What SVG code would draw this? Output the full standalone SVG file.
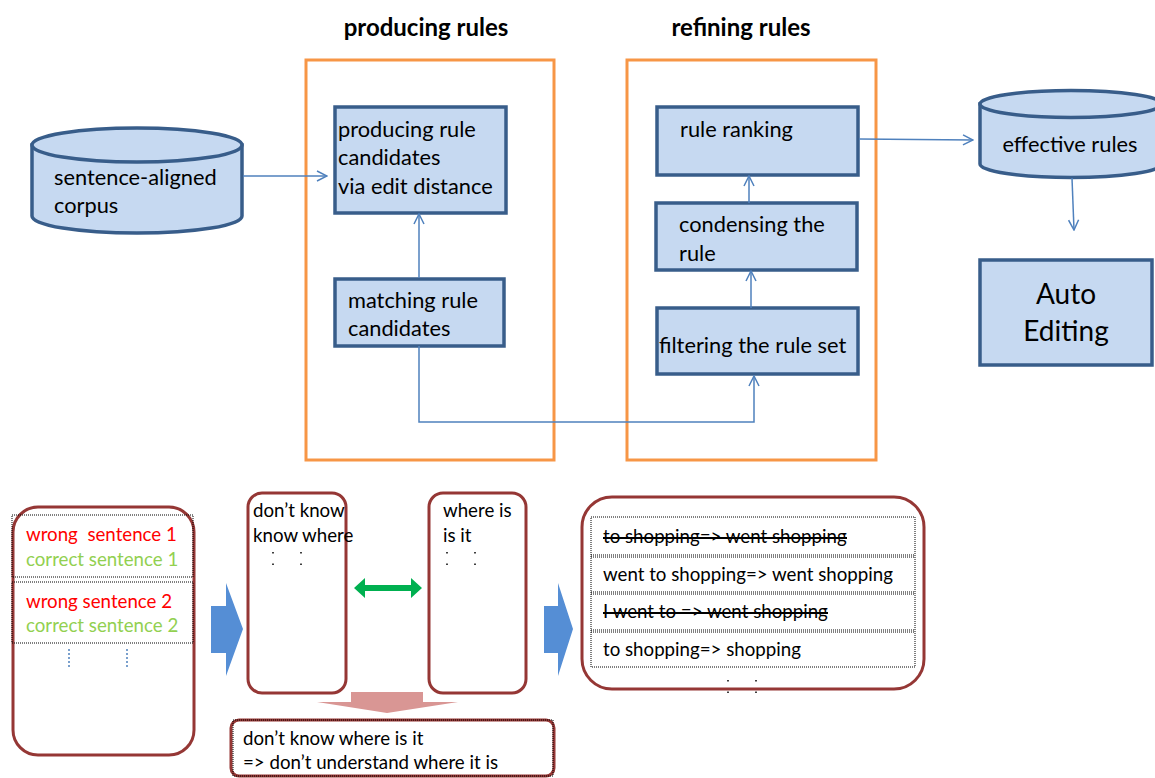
<svg xmlns="http://www.w3.org/2000/svg" width="1155" height="778" viewBox="0 0 1155 778">
<defs>
<marker id="open" viewBox="0 0 12 12" refX="11" refY="6" markerWidth="12" markerHeight="12" markerUnits="userSpaceOnUse" orient="auto">
<path d="M1,1 L11,6 L1,11" fill="none" stroke="#4F81BD" stroke-width="1.5"/>
</marker>
</defs>
<style>
text{font-family:Lato,"Liberation Sans",sans-serif;fill:#000}
.title{font-size:24px;font-weight:bold}
.t{font-size:21.8px}
.b{font-size:18.7px}
.stage{fill:none;stroke:#F79646;stroke-width:3}
.proc{fill:#C6D9F1;stroke:#385D8A;stroke-width:3.5}
.conn{fill:none;stroke:#4F81BD;stroke-width:1.5}
.red{fill:#fff;stroke:#953735;stroke-width:3}
.dot{fill:none;stroke:#000;stroke-width:1;stroke-dasharray:1 1}
.vd{stroke:#000;stroke-width:1.5;stroke-dasharray:1.5 10}
</style>
<rect width="1155" height="778" fill="#fff"/>

<g id="title-producing"><text class="title" x="426" y="36" text-anchor="middle">producing rules</text></g>
<g id="title-refining"><text class="title" x="741" y="36" text-anchor="middle">refining rules</text></g>

<g id="stage-producing"><rect class="stage" x="306" y="60" width="248" height="400"/></g>
<g id="stage-refining"><rect class="stage" x="627" y="60" width="249" height="400"/></g>

<g id="corpus">
<path class="proc" d="M32,145 L32,216 A105,17 0 0 0 242,216 L242,145 Z"/>
<ellipse class="proc" cx="137" cy="145" rx="105" ry="17"/>
<text class="t" x="54" y="185">sentence-aligned</text>
<text class="t" x="54" y="213">corpus</text>
</g>

<g id="producing">
<rect class="proc" x="335" y="107" width="171" height="106"/>
<text class="t" x="338" y="137">producing rule</text>
<text class="t" x="338" y="165">candidates</text>
<text class="t" x="338" y="194">via edit distance</text>
</g>

<g id="matching">
<rect class="proc" x="335" y="279" width="169" height="67"/>
<text class="t" x="348" y="308">matching rule</text>
<text class="t" x="348" y="336">candidates</text>
</g>

<g id="ranking">
<rect class="proc" x="657" y="107" width="201" height="68"/>
<text class="t" x="680" y="137">rule ranking</text>
</g>

<g id="condensing">
<rect class="proc" x="656" y="203" width="201" height="67"/>
<text class="t" x="679" y="232">condensing the</text>
<text class="t" x="679" y="261">rule</text>
</g>

<g id="filtering">
<rect class="proc" x="657" y="308" width="201" height="66"/>
<text class="t" x="659" y="353">filtering the rule set</text>
</g>

<g id="effective">
<path class="proc" d="M980,104 L980,164 A91,13.5 0 0 0 1162,164 L1162,104 Z"/>
<ellipse class="proc" cx="1071" cy="104" rx="91" ry="13.5"/>
<text class="t" x="1070" y="152" text-anchor="middle">effective rules</text>
</g>

<g id="auto-editing">
<rect class="proc" x="980" y="260" width="172" height="105"/>
<text x="1066" y="304" text-anchor="middle" style="font-size:28px">Auto</text>
<text x="1066" y="341" text-anchor="middle" style="font-size:28px">Editing</text>
</g>

<g id="connectors">
<line class="conn" x1="243" y1="176" x2="327" y2="176" marker-end="url(#open)"/>
<line class="conn" x1="419" y1="278" x2="419" y2="214" marker-end="url(#open)"/>
<polyline class="conn" points="419,346 419,422 754,422 754,376" marker-end="url(#open)"/>
<line class="conn" x1="751" y1="308" x2="751" y2="271" marker-end="url(#open)"/>
<line class="conn" x1="749" y1="203" x2="749" y2="176" marker-end="url(#open)"/>
<line class="conn" x1="859" y1="139" x2="973" y2="140" marker-end="url(#open)"/>
<line class="conn" x1="1072" y1="178" x2="1074" y2="230" marker-end="url(#open)"/>
</g>

<g id="sentences">
<rect class="red" x="13" y="507" width="181" height="248" rx="25"/>
<rect class="dot" x="12" y="515" width="181" height="62"/>
<rect class="dot" x="12" y="582" width="181" height="61"/>
<text class="b" x="26" y="541" style="fill:#FF0000">wrong&#160; sentence 1</text>
<text class="b" x="26" y="566" style="fill:#92D050">correct sentence 1</text>
<text class="b" x="26" y="608" style="fill:#FF0000">wrong sentence 2</text>
<text class="b" x="26" y="632" style="fill:#92D050">correct sentence 2</text>
<line x1="69" y1="649" x2="69" y2="667" stroke="#4F81BD" stroke-width="1.5" stroke-dasharray="2 2"/>
<line x1="127" y1="649" x2="127" y2="667" stroke="#4F81BD" stroke-width="1.5" stroke-dasharray="2 2"/>
</g>

<g id="arrow-blue-1"><polygon points="211,606 226,606 226,583 243,629 226,676 226,653 211,653" fill="#558ED5"/></g>

<g id="ngrams-wrong">
<rect class="red" x="248" y="493" width="98" height="200" rx="14"/>
<text class="b" x="253" y="517">don’t know</text>
<text class="b" x="253" y="542">know where</text>
<line class="vd" x1="273" y1="552" x2="273" y2="568"/>
<line class="vd" x1="301" y1="552" x2="301" y2="568"/>
</g>

<g id="arrow-green">
<polygon points="354,588 365,578 365,585 411,585 411,578 422,588 411,598 411,591 365,591 365,598" fill="#00B050"/>
</g>

<g id="ngrams-correct">
<rect class="red" x="429" y="493" width="97" height="200" rx="14"/>
<text class="b" x="443" y="517">where is</text>
<text class="b" x="443" y="542">is it</text>
<line class="vd" x1="447" y1="552" x2="447" y2="568"/>
<line class="vd" x1="475" y1="552" x2="475" y2="568"/>
</g>

<g id="arrow-pink"><polygon points="351,692 423,692 423,702 458,702 387,713 317,702 351,702" fill="#D99694"/></g>

<g id="rule-example">
<rect class="red" x="231" y="720" width="323" height="56" rx="8"/>
<rect class="dot" x="233" y="720" width="320" height="56"/>
<text class="b" x="243" y="745">don’t know where is it</text>
<text class="b" x="243" y="769">=&gt; don’t understand where it is</text>
</g>

<g id="arrow-blue-2"><polygon points="544,606 558,606 558,583 573,629 558,676 558,653 544,653" fill="#558ED5"/></g>

<g id="rule-set">
<rect class="red" x="582" y="497" width="342" height="192" rx="30"/>
<rect class="dot" x="591" y="517" width="324" height="150"/>
<line class="dot" x1="591" y1="555" x2="915" y2="555"/>
<line class="dot" x1="591" y1="557" x2="915" y2="557"/>
<line class="dot" x1="591" y1="592" x2="915" y2="592"/>
<line class="dot" x1="591" y1="594" x2="915" y2="594"/>
<line class="dot" x1="591" y1="630" x2="915" y2="630"/>
<line class="dot" x1="591" y1="632" x2="915" y2="632"/>
<text class="b" x="603" y="543">to shopping=&gt; went shopping</text>
<line x1="603" y1="538" x2="847" y2="538" stroke="#000" stroke-width="2"/>
<text class="b" x="603" y="581">went to shopping=&gt; went shopping</text>
<text class="b" x="603" y="618">I went to =&gt; went shopping</text>
<line x1="603" y1="613" x2="828" y2="613" stroke="#000" stroke-width="2"/>
<text class="b" x="603" y="656">to shopping=&gt; shopping</text>
<line class="vd" x1="728" y1="680" x2="728" y2="700"/>
<line class="vd" x1="756" y1="680" x2="756" y2="700"/>
</g>
</svg>
